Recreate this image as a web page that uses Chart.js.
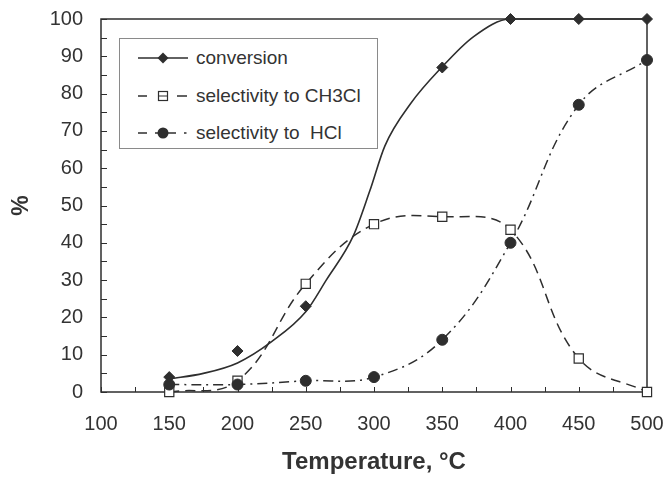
<!DOCTYPE html>
<html><head><meta charset="utf-8">
<script src="https://cdn.jsdelivr.net/npm/chart.js@4/dist/chart.umd.min.js"></script>
<style>
html,body{margin:0;padding:0;background:#fff;}
#wrap{position:relative;width:668px;height:477px;}
#legend{position:absolute;left:119px;top:38px;width:257px;height:109px;border:1px solid #8a8a8a;background:#fff;font-family:"Liberation Sans",Arial,sans-serif;font-size:19px;color:#333;}
.row{position:absolute;left:0;height:24px;width:255px;}
.row svg{position:absolute;left:18px;top:4px;}
.row span{position:absolute;left:76px;top:0;line-height:24px;white-space:pre;}
</style></head>
<body>
<div id="wrap">
<canvas id="c" width="668" height="477"></canvas>
<div id="legend"></div>
</div>
<script>
// ---- data ----
const convT   = [150, 200, 250, 350, 400, 450, 500];
const convVal = [4, 11, 23, 87, 100, 100, 100];
// fitted conversion curve
const fitT   = [150, 175, 200, 225, 250, 265, 285, 297, 308, 327, 349, 373, 400, 450, 500];
const fitVal = [3.5, 5, 7.8, 13.5, 21.5, 30, 42, 54, 66, 77.4, 86.8, 95.3, 100, 100, 100];
const temps    = [150, 200, 250, 300, 350, 400, 450, 500];
const selCH3Cl = [0, 3, 29, 45, 47, 43.5, 9, 0];
const selHCl   = [2, 2, 3, 4, 14, 40, 77, 89];
const legendLabels = ['conversion', 'selectivity to CH3Cl', 'selectivity to  HCl'];
const xTitle = 'Temperature, °C';
const yTitle = '%';

const INK = '#2e2e2e';
const FONT = '"Liberation Sans", Arial, sans-serif';
const pairs = (xs, ys) => xs.map((x, i) => ({x: x, y: ys[i]}));

const frame = {
  id: 'frame',
  beforeDatasetsDraw(chart) {
    const {ctx, chartArea: a, scales: {x, y}} = chart;
    ctx.save();
    ctx.strokeStyle = INK;
    ctx.lineWidth = 1.5;
    ctx.strokeRect(a.left, a.top, a.right - a.left, a.bottom - a.top);
    ctx.lineWidth = 1;
    ctx.beginPath();
    for (let v = x.min; v <= x.max; v += 25) {
      const px = Math.round(x.getPixelForValue(v)) + 0.5;
      ctx.moveTo(px, a.bottom); ctx.lineTo(px, a.bottom - 5);
    }
    for (let v = y.min; v <= y.max; v += 5) {
      const py = Math.round(y.getPixelForValue(v)) + 0.5;
      ctx.moveTo(a.left, py); ctx.lineTo(a.left + 6, py);
    }
    ctx.stroke();
    ctx.restore();
  }
};

new Chart(document.getElementById('c'), {
  type: 'line',
  data: {
    datasets: [
      { label: 'fit', data: pairs(fitT, fitVal), borderColor: INK, borderWidth: 1.6,
        pointRadius: 0, cubicInterpolationMode: 'monotone', fill: false, order: 3 },
      { label: legendLabels[0], data: pairs(convT, convVal), showLine: false,
        pointStyle: 'rectRot', pointRadius: 5.5, backgroundColor: INK, borderColor: INK, borderWidth: 1, order: 0 },
      { label: legendLabels[1], data: pairs(temps, selCH3Cl), borderColor: INK, borderWidth: 1.5,
        borderDash: [10, 6], tension: 0.4, pointStyle: 'rect', pointRadius: 6.5,
        pointBackgroundColor: '#fff', pointBorderColor: INK, pointBorderWidth: 1.2, fill: false, order: 2 },
      { label: legendLabels[2], data: pairs(temps, selHCl), borderColor: INK, borderWidth: 1.5,
        borderDash: [10, 5, 2, 5], tension: 0.4, pointStyle: 'circle', pointRadius: 5.5,
        pointBackgroundColor: INK, pointBorderColor: INK, pointBorderWidth: 1, fill: false, order: 1 }
    ]
  },
  options: {
    responsive: false,
    animation: false,
    devicePixelRatio: 1,
    clip: false,
    layout: { padding: { left: 0, right: 21, top: 19, bottom: 0 } },
    elements: { line: { capBezierPoints: false } },
    plugins: { legend: { display: false }, tooltip: { enabled: false } },
    scales: {
      x: {
        type: 'linear', min: 100, max: 500,
        grid: { display: false, drawTicks: false }, border: { display: false },
        ticks: { stepSize: 50, padding: 20, color: '#333', font: { family: FONT, size: 20 } },
        title: { display: true, text: xTitle, color: '#333', padding: 0,
                 font: { family: FONT, size: 24, weight: 'bold' } },
        afterFit(s) { s.height = 85; s.paddingLeft = 0; s.paddingRight = 0; }
      },
      y: {
        min: 0, max: 100,
        grid: { display: false, drawTicks: false }, border: { display: false },
        ticks: { stepSize: 10, padding: 18, color: '#333', font: { family: FONT, size: 20 } },
        title: { display: true, text: yTitle, color: '#333', padding: { top: 8, bottom: 0 },
                 font: { family: FONT, size: 23, weight: 'bold' } },
        afterFit(s) { s.width = 101; s.paddingTop = 0; s.paddingBottom = 0; }
      }
    }
  },
  plugins: [frame]
});

// HTML legend
const sym = [
  '<svg width="54" height="16"><line x1="0" y1="8" x2="50" y2="8" stroke="'+INK+'" stroke-width="1.5"/><polygon points="25,2.5 30.5,8 25,13.5 19.5,8" fill="'+INK+'"/></svg>',
  '<svg width="54" height="16"><line x1="0" y1="8" x2="9" y2="8" stroke="'+INK+'" stroke-width="1.5"/><rect x="20.5" y="3.5" width="9" height="9" fill="#fff" stroke="'+INK+'" stroke-width="1.2"/><line x1="20.5" y1="8" x2="29.5" y2="8" stroke="'+INK+'" stroke-width="1"/><line x1="39" y1="8" x2="49" y2="8" stroke="'+INK+'" stroke-width="1.5"/></svg>',
  '<svg width="54" height="16"><line x1="0" y1="8" x2="9" y2="8" stroke="'+INK+'" stroke-width="1.5"/><line x1="17" y1="8" x2="38" y2="8" stroke="'+INK+'" stroke-width="1.5"/><circle cx="25" cy="8" r="5.5" fill="'+INK+'"/><line x1="46" y1="8" x2="48.5" y2="8" stroke="'+INK+'" stroke-width="1.5"/></svg>'
];
const centers = [19, 57, 94];
const lg = document.getElementById('legend');
legendLabels.forEach((t, i) => {
  const d = document.createElement('div');
  d.className = 'row';
  d.style.top = (centers[i] - 12) + 'px';
  d.innerHTML = sym[i] + '<span></span>';
  d.querySelector('span').textContent = t;
  lg.appendChild(d);
});
</script>
</body></html>
